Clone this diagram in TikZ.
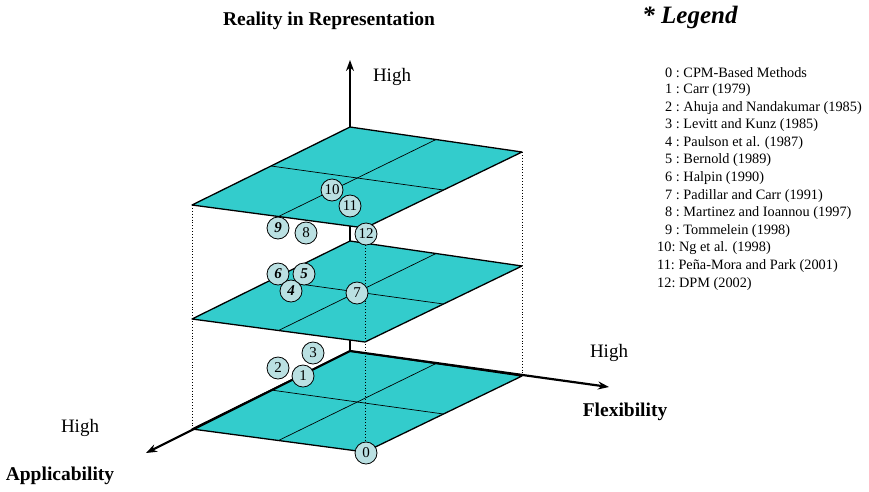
\documentclass[tikz,border=0pt]{standalone}
\usepackage{fontspec}
\setmainfont{Liberation Serif}
\usetikzlibrary{arrows.meta, calc}
\definecolor{cplane}{HTML}{33CCCC}
\definecolor{cdot}{HTML}{BAE0E2}
\tikzset{
  every picture/.style={x=1pt, y=-1pt},
  plane/.style={draw=black, fill=cplane, line width=1.3pt, line join=round},
  gridline/.style={draw=black, line width=0.7pt},
  axis/.style={-{Stealth[length=11pt, width=8pt]}, line width=2.2pt},
  guide/.style={dotted, line width=0.9pt},
  study/.style={circle, draw=black, fill=cdot, line width=0.8pt, minimum size=22pt, inner sep=0pt, font=\fontsize{15}{15}\selectfont},
  studyit/.style={study, font=\fontsize{15}{15}\selectfont\bfseries\itshape},
  high/.style={font=\fontsize{19}{19}\selectfont},
  axlabel/.style={font=\fontsize{19.5}{19.5}\selectfont\bfseries},
  legend/.style={font=\fontsize{14.3}{14.3}\selectfont, anchor=west, inner sep=0pt},
}

\begin{document}
\begin{tikzpicture}
  \useasboundingbox (0,0) rectangle (869,491);
  \coordinate (origin) at (350,351);
  \coordinate (up) at (350,60);
  \coordinate (flex) at (609,387);
  \coordinate (appl) at (146,453);
  % vertical axis behind the planes
  \draw[axis, line width=2.5pt] (origin) -- (up);
  % three levels
  \foreach \b/\lvl in {351/low, 241/mid, 127/top} {
    \coordinate (\lvl-back) at (350,\b);
    \coordinate (\lvl-left) at (192,\b+78);
    \coordinate (\lvl-right) at (522,\b+25);
    \coordinate (\lvl-front) at (365,\b+101);
    \draw[plane] (\lvl-back) -- (\lvl-right) -- (\lvl-front) -- (\lvl-left) -- cycle;
    \draw[gridline] ($(\lvl-back)!0.5!(\lvl-left)$) -- ($(\lvl-right)!0.5!(\lvl-front)$);
    \draw[gridline] ($(\lvl-back)!0.5!(\lvl-right)$) -- ($(\lvl-left)!0.5!(\lvl-front)$);
  }
  \draw[axis] (origin) -- (flex);
  \draw[axis] (origin) -- (appl);
  \draw[guide] (top-left) -- (low-left);
  \draw[guide] (top-right) -- (low-right);
  \draw[guide] (top-front) -- (low-front);
  % studies
  \foreach \n/\px/\py in {0/366/453, 1/303/376, 2/278/368, 3/313/353, 7/357/293,
                          8/306/233, 10/332/190, 11/350/206, 12/366/234}
    \node[study] (c\n) at (\px,\py) {\n};
  \foreach \n/\px/\py in {9/278/228, 6/278/274, 5/304/274, 4/291/291}
    \node[studyit] (c\n) at (\px,\py) {\n};
  % axis labels
  \node[axlabel] (reality) at (329,21) {Reality in Representation};
  \node[high] (high-up) at (392,77) {High};
  \node[high] (high-flex) at (609,353) {High};
  \node[axlabel] (flexlab) at (625,412) {Flexibility};
  \node[high] (high-appl) at (80,428) {High};
  \node[axlabel] (appllab) at (60,476) {Applicability};
  % legend
  \node[font=\fontsize{25}{25}\selectfont\bfseries\itshape] (legtitle) at (690,17) {* Legend};
  \foreach \i/\txt in {0/{CPM-Based Methods}, 1/{Carr (1979)}, 2/{Ahuja and Nandakumar (1985)},
      3/{Levitt and Kunz (1985)}, 4/{Paulson et al. (1987)}, 5/{Bernold (1989)},
      6/{Halpin (1990)}, 7/{Padillar and Carr (1991)}, 8/{Martinez and Ioannou (1997)},
      9/{Tommelein (1998)}, 10/{Ng et al. (1998)}, 11/{Peña-Mora and Park (2001)},
      12/{DPM (2002)}} {
    \ifnum\i<10
      \node[legend] (leg\i) at (665,{72.5+17.6*\i}) {\i\ :\ \txt};
    \else
      \node[legend] (leg\i) at (657,{72.5+17.6*\i}) {\i:\ \txt};
    \fi
  }
\end{tikzpicture}
\end{document}
